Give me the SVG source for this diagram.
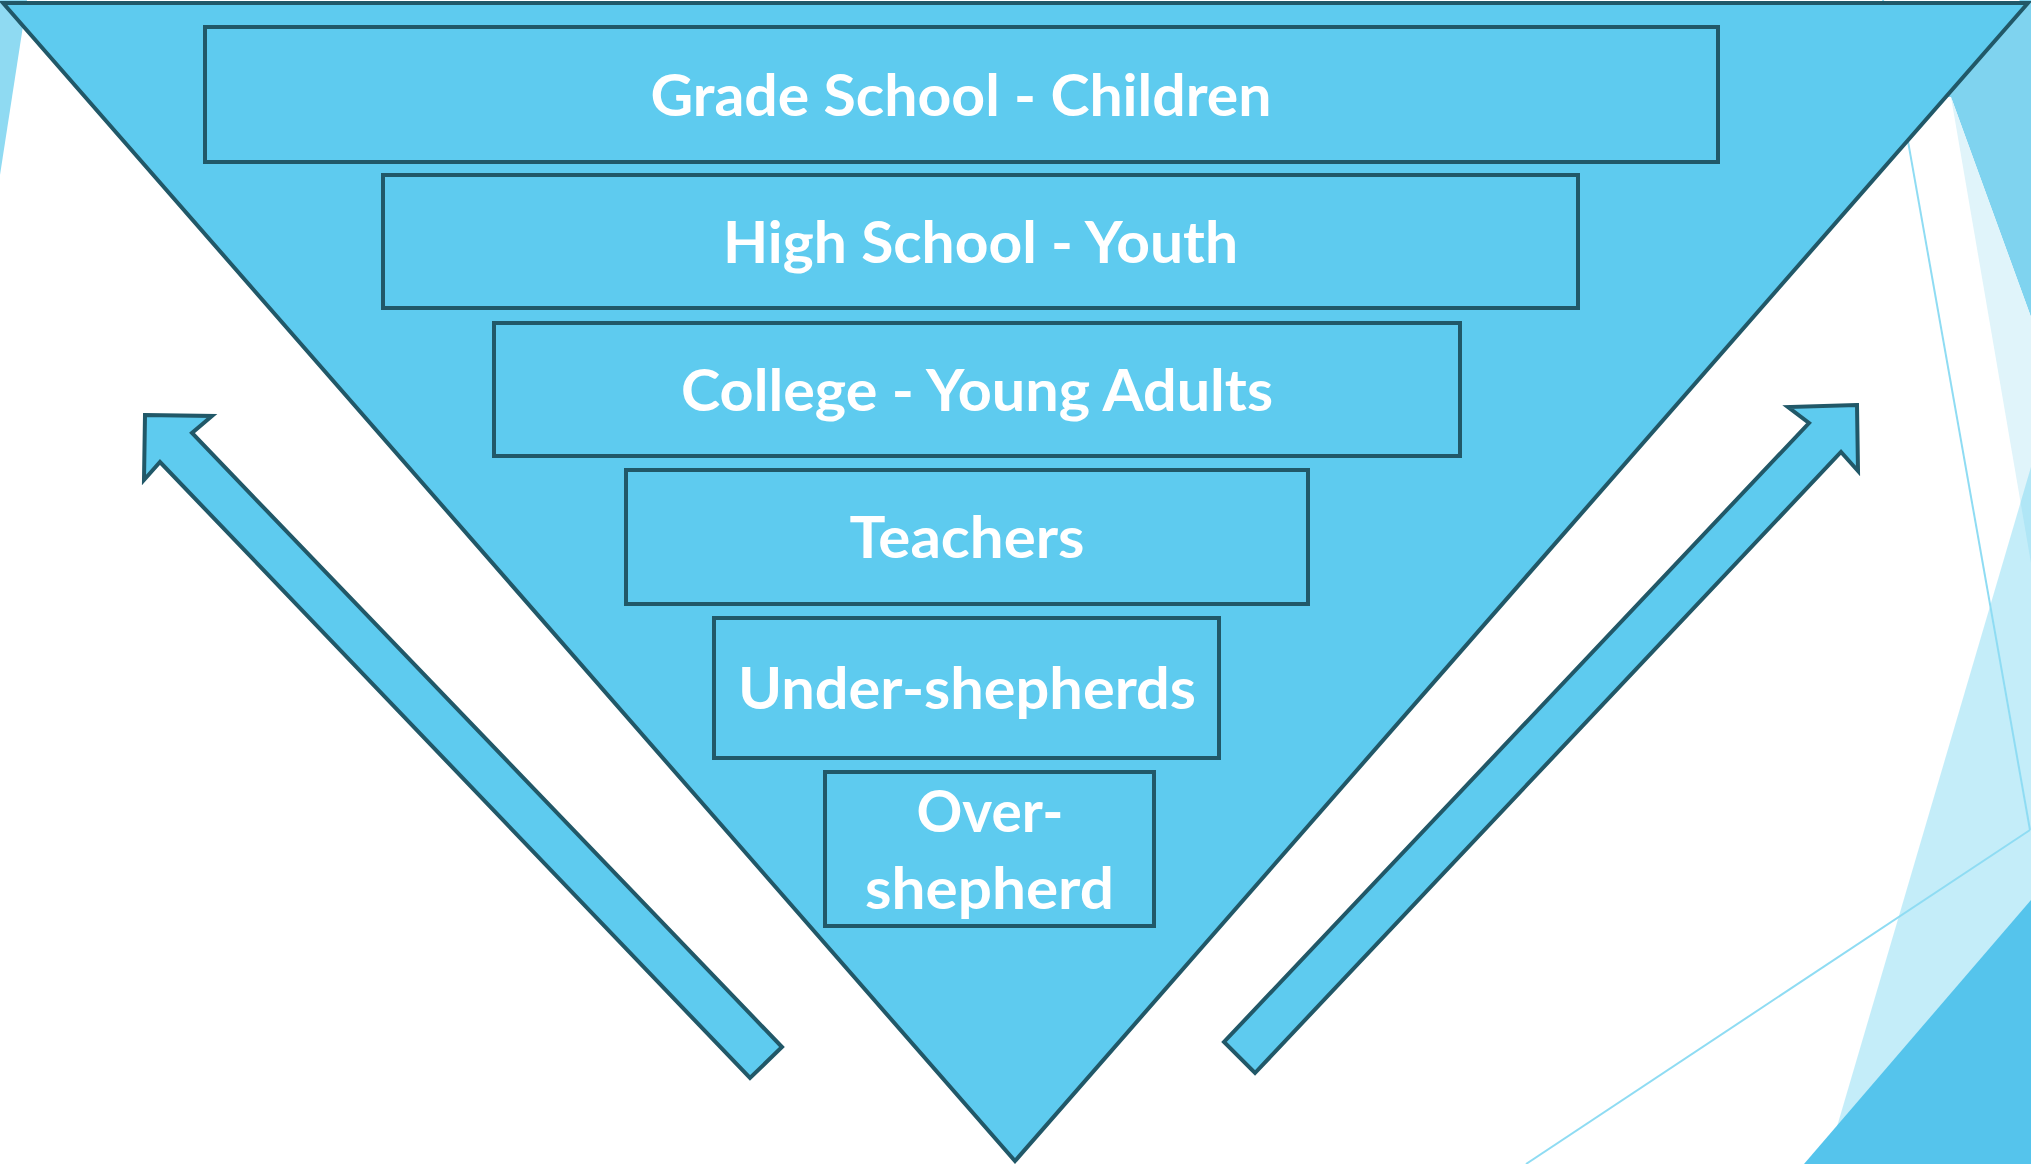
<svg xmlns="http://www.w3.org/2000/svg" width="2031" height="1164" viewBox="0 0 2031 1164">
  <style>
    .tier { fill: #5ecbef; stroke: #215868; stroke-width: 4; }
    .lbl { font-family: Lato, "Open Sans", "Liberation Sans", sans-serif; font-weight: bold; font-size: 57px; fill: #ffffff; text-anchor: middle; }
    .arrow { fill: #5ecbef; stroke: #215868; stroke-width: 4; stroke-linejoin: miter; }
    .thin { fill: none; stroke: #8fdcf3; stroke-width: 2; }
  </style>
  <rect x="0" y="0" width="2031" height="1164" fill="#ffffff"/>
  <g id="background">
    <polygon points="0,0 27,0 0,175" fill="#8fdaf2"/>
    <polygon points="1930,97 1951,97 2031,317 2031,0 2020,0" fill="#7fd3ef"/>
    <polygon points="1951,97 2031,563 2031,317" fill="#e0f4fa"/>
    <polygon points="2031,467 2031,1164 1826,1164" fill="#56ccef" fill-opacity="0.35"/>
    <polygon points="2031,900 2031,1164 1804,1164" fill="#55c4ec"/>
    <line class="thin" x1="1883" y1="0" x2="2030" y2="830"/>
    <line class="thin" x1="2030" y1="830" x2="1526" y2="1164"/>
  </g>
  <g id="pyramid">
    <polygon class="tier" points="3,3 2028,3 1015,1161"/>
  </g>
  <g id="tier1">
    <rect class="tier" x="205" y="27" width="1513" height="135"/>
    <text class="lbl" x="961" y="116" textLength="621" lengthAdjust="spacingAndGlyphs">Grade School - Children</text>
  </g>
  <g id="tier2">
    <rect class="tier" x="383" y="175" width="1195" height="133"/>
    <text class="lbl" x="980.5" y="263" textLength="515" lengthAdjust="spacingAndGlyphs">High School - Youth</text>
  </g>
  <g id="tier3">
    <rect class="tier" x="494" y="323" width="966" height="133"/>
    <text class="lbl" x="977" y="411" textLength="592" lengthAdjust="spacingAndGlyphs">College - Young Adults</text>
  </g>
  <g id="tier4">
    <rect class="tier" x="626" y="470" width="682" height="134"/>
    <text class="lbl" x="967" y="558" textLength="235" lengthAdjust="spacingAndGlyphs">Teachers</text>
  </g>
  <g id="tier5">
    <rect class="tier" x="714" y="618" width="505" height="140"/>
    <text class="lbl" x="967" y="709" textLength="458" lengthAdjust="spacingAndGlyphs">Under-shepherds</text>
  </g>
  <g id="tier6">
    <rect class="tier" x="825" y="772" width="329" height="154"/>
    <text class="lbl" x="990" y="832" textLength="147" lengthAdjust="spacingAndGlyphs">Over-</text>
    <text class="lbl" x="989.5" y="909" textLength="249" lengthAdjust="spacingAndGlyphs">shepherd</text>
  </g>
  <g id="connectors">
    <polygon class="arrow" points="145,415 212,416 192,433 782,1047 750,1078 160,462 144,480"/>
    <polygon class="arrow" points="1857,405 1788,407 1809,423 1224,1042 1255,1073 1841,452 1858,471"/>
  </g>
</svg>
